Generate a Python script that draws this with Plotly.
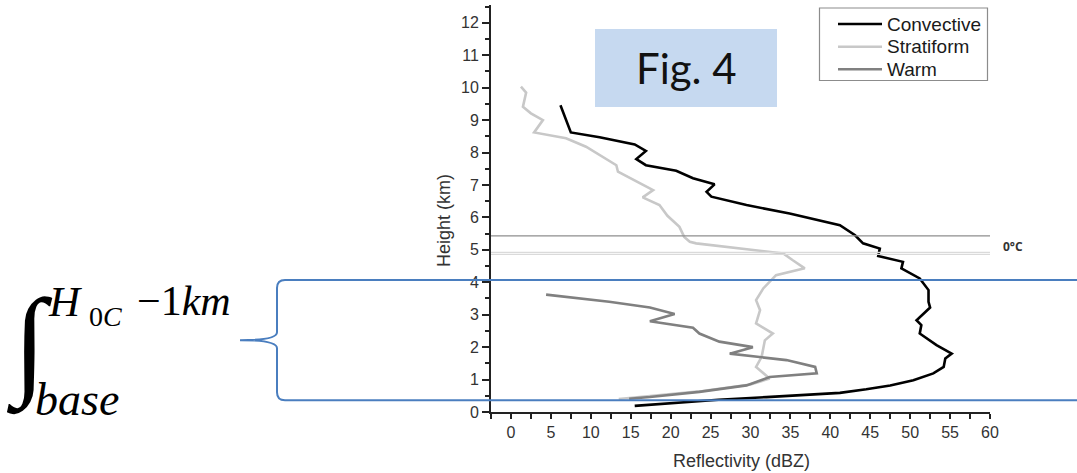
import plotly.graph_objects as go

# ---------------- data ----------------
conv_dbz = [15.5, 20, 26, 32, 37, 41.2, 44.5, 47.5, 50.4, 52.9, 54.2, 54.4, 55.2, 53.3, 51.2, 51.4, 50.8,
            52.5, 52.3, 52.3, 51.2, 48.9, 49.1, 46.0, 46.2, 44.1, 43.1, 41.2, 34.9, 29.5, 25.1, 24.5,
            25.5, 22.8, 20.7, 16.9, 15.7, 16.9, 15.5, 11.1, 7.5, 6.2]
conv_h = [0.19, 0.27, 0.38, 0.46, 0.53, 0.59, 0.70, 0.82, 0.98, 1.19, 1.39, 1.65, 1.80, 2.06, 2.42, 2.68, 2.83,
          3.22, 3.40, 3.76, 4.12, 4.43, 4.63, 4.81, 5.04, 5.20, 5.45, 5.76, 6.12, 6.38, 6.64, 6.79,
          7.02, 7.21, 7.44, 7.61, 7.80, 8.05, 8.25, 8.47, 8.62, 9.46]

strat_dbz = [13.5, 18, 24, 30, 32.4, 30.7, 31.4, 31.8, 32.8, 30.7, 31.2, 30.7, 31.6, 33.2, 36.8, 35.3, 34.1,
             23.2, 22.4, 21.7, 21.1, 19.6, 18.6, 16.5, 17.8, 13.4, 13.2, 9.4, 6.9, 2.9, 4.0, 2.5, 1.5, 1.9, 1.25]
strat_h = [0.40, 0.50, 0.65, 0.85, 1.03, 1.39, 1.70, 2.21, 2.42, 2.73, 3.14, 3.45, 3.81, 4.22, 4.43, 4.68, 4.89,
           5.20, 5.25, 5.40, 5.71, 6.05, 6.38, 6.62, 6.84, 7.41, 7.61, 8.18, 8.44, 8.62, 9.00, 9.21, 9.41, 9.85, 10.03]

warm_dbz = [14.8, 17.4, 23.6, 29.5, 32.4, 38.3, 38.1, 34.5, 27.4, 30.3, 26.1, 23.6, 22.8, 17.4, 20.5, 17.4, 12.3, 4.4]
warm_h = [0.41, 0.46, 0.62, 0.82, 1.08, 1.19, 1.39, 1.60, 1.80, 2.00, 2.17, 2.42, 2.60, 2.80, 3.02, 3.22, 3.40, 3.62]

series_names = ["Convective", "Stratiform", "Warm"]
series_colors = ["#000000", "#c8c8c8", "#808080"]

freezing_lines = [5.43, 4.92, 4.86]          # 0°C reference lines (km)
freezing_colors = ["#8e8e8e", "#dadada", "#dadada"]
integral_limits = [4.07, 0.36]               # blue bounding lines (km)

x_ticks = list(range(0, 61, 5))
y_ticks = list(range(0, 13, 1))

# ---------------- layout geometry ----------------
W, H = 1077, 473
L, R, T, B = 491, 990, 5, 412
PW, PH = R - L, B - T


def px(x):
    return (x - L) / PW


def py(y):
    return (B - y) / PH


fig = go.Figure()
for name, xs, ys, col in zip(series_names, [conv_dbz, strat_dbz, warm_dbz],
                             [conv_h, strat_h, warm_h], series_colors):
    fig.add_trace(go.Scatter(x=xs, y=ys, mode="lines", name=name,
                             line=dict(color=col, width=2.6), showlegend=False))

shapes = []
# 0°C lines
for yv, c in zip(freezing_lines, freezing_colors):
    shapes.append(dict(type="line", xref="x", yref="y", x0=-2.5, x1=60, y0=yv, y1=yv,
                       line=dict(color=c, width=1.3)))
# blue lines
blue = "#4a7ebf"
for yv in integral_limits:
    shapes.append(dict(type="line", xref="paper", yref="y", x0=px(285), x1=px(1077), y0=yv, y1=yv,
                       line=dict(color=blue, width=2)))
# brace
top, bot = integral_limits
mid = (top + bot) / 2
kk = 1 / 32.4
brace = (f"M {px(285)},{top} Q {px(277)},{top} {px(277)},{top - 8*kk} "
         f"L {px(277)},{mid + 8*kk} Q {px(277)},{mid} {px(240)},{mid} "
         f"Q {px(277)},{mid} {px(277)},{mid - 8*kk} "
         f"L {px(277)},{bot + 8*kk} Q {px(277)},{bot} {px(285)},{bot}")
shapes.append(dict(type="path", xref="paper", yref="y", path=brace, line=dict(color=blue, width=2)))
# Fig. 4 box
shapes.append(dict(type="rect", xref="paper", yref="paper", x0=px(595), x1=px(777), y0=py(107), y1=py(29),
                   fillcolor="#c6d9f0", line=dict(width=0), layer="below"))
# legend box
shapes.append(dict(type="rect", xref="paper", yref="paper", x0=px(819.5), x1=px(987.5), y0=py(80.5), y1=py(8),
                   fillcolor="white", line=dict(color="#8c8c8c", width=1.2)))
legend_y = [24, 46.7, 69.3]
for yy, c in zip(legend_y, series_colors):
    shapes.append(dict(type="line", xref="paper", yref="paper", x0=px(838), x1=px(882), y0=py(yy), y1=py(yy),
                       line=dict(color=c, width=2.6)))

ann = []
for yy, n in zip(legend_y, series_names):
    ann.append(dict(xref="paper", yref="paper", x=px(885), y=py(yy), text=n, showarrow=False,
                    xanchor="left", yanchor="middle",
                    font=dict(family="Arial", size=19, color="#1a1a1a")))
# axis titles
ann.append(dict(xref="paper", yref="paper", x=px(741), y=py(461), text="Reflectivity (dBZ)", showarrow=False,
                xanchor="center", yanchor="middle",
                font=dict(family="Arial", size=18, color="#333333")))
ann.append(dict(xref="paper", yref="paper", x=px(444), y=py(221), text="Height (km)", showarrow=False,
                textangle=-90, xanchor="center", yanchor="middle",
                font=dict(family="Arial", size=18, color="#333333")))
# 0°C label
ann.append(dict(xref="paper", yref="y", x=px(1001), y=(freezing_lines[1] + freezing_lines[0]) / 2 - 0.08,
                text="<b>0°C</b>", showarrow=False, xanchor="left", yanchor="middle",
                font=dict(family="Open Sans", size=12, color="#333333")))
# Fig. 4
ann.append(dict(xref="paper", yref="paper", x=px(686), y=py(68), text="Fig. 4", showarrow=False,
                xanchor="center", yanchor="middle",
                font=dict(family="Lato", size=42, color="#111111")))
# integral formula
serif = "Liberation Serif"
ann.append(dict(xref="paper", yref="paper", x=px(4), y=py(345), text="<b>∫</b>", showarrow=False,
                xanchor="left", yanchor="middle",
                font=dict(family=serif, size=120, color="#000000")))
ann.append(dict(xref="paper", yref="paper", x=px(46), y=py(301), text="<i>H</i>", showarrow=False,
                xanchor="left", yanchor="middle", font=dict(family=serif, size=43, color="#000000")))
ann.append(dict(xref="paper", yref="paper", x=px(87), y=py(316), text="0<i>C</i>", showarrow=False,
                xanchor="left", yanchor="middle", font=dict(family=serif, size=28, color="#000000")))
ann.append(dict(xref="paper", yref="paper", x=px(135), y=py(301), text="−1<i>km</i>", showarrow=False,
                xanchor="left", yanchor="middle", font=dict(family=serif, size=42, color="#000000")))
ann.append(dict(xref="paper", yref="paper", x=px(33), y=py(399), text="<i>base</i>", showarrow=False,
                xanchor="left", yanchor="middle",
                font=dict(family=serif, size=46, color="#000000")))

axis_font = dict(family="Arial", size=16, color="#333333")
fig.update_layout(
    width=W, height=H, margin=dict(l=L, r=W - R, t=T, b=H - B),
    paper_bgcolor="white", plot_bgcolor="white",
    shapes=shapes, annotations=ann, showlegend=False,
    xaxis=dict(range=[-2.5, 60], tickvals=x_ticks, ticks="outside", ticklen=5, tickwidth=1.5,
               tickcolor="#222222", showline=True, linewidth=2, linecolor="#222222",
               showgrid=False, zeroline=False, tickfont=axis_font,
               minor=dict(dtick=2.5, tick0=0, ticks="outside", ticklen=5, tickwidth=1.5, tickcolor="#222222",
                          showgrid=False)),
    yaxis=dict(range=[0, 12.55], tickvals=y_ticks, ticks="outside", ticklen=7, tickwidth=1.5,
               tickcolor="#222222", showline=True, linewidth=2, linecolor="#222222",
               showgrid=False, zeroline=False, tickfont=axis_font,
               minor=dict(dtick=0.5, tick0=0, ticks="outside", ticklen=4, tickwidth=1.5, tickcolor="#222222",
                          showgrid=False)),
)

fig.write_html("out.html")
